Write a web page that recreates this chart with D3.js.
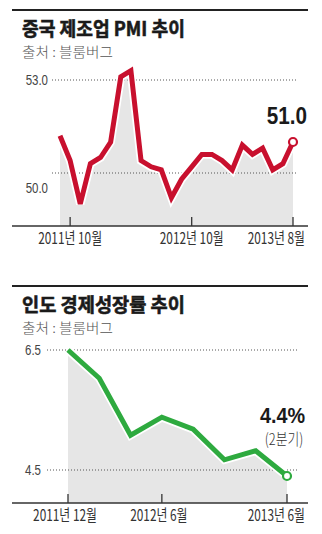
<!DOCTYPE html>
<html><head><meta charset="utf-8">
<script src="https://cdn.jsdelivr.net/npm/d3@7"></script>
<style>
html,body{margin:0;padding:0;background:#fff;}
svg{display:block;}
</style></head>
<body>
<script>
// ---- Data ----
const pmiMonths = ["2011-09","2011-10","2011-11","2011-12","2012-01","2012-02","2012-03","2012-04","2012-05","2012-06","2012-07","2012-08","2012-09","2012-10","2012-11","2012-12","2013-01","2013-02","2013-03","2013-04","2013-05","2013-06","2013-07","2013-08"];
const pmiValues = [51.2,50.4,49.0,50.3,50.5,51.0,53.1,53.3,50.4,50.2,50.1,49.2,49.8,50.2,50.6,50.6,50.4,50.1,50.9,50.6,50.8,50.1,50.3,51.0];
const pmiTicks = ["2011-10","2012-10","2013-08"];
const pmiTickLabels = ["2011년 10월","2012년 10월","2013년 8월"];
const pmiGrid = [53.0, 50.0];
const pmiGridLabels = ["53.0","50.0"];

const gdpPeriods = ["2011-12","2012-03a","2012-03b","2012-06","2012-09","2012-12","2013-03","2013-06"];
const gdpValues = [6.5,6.03,5.08,5.38,5.18,4.67,4.82,4.4];
const gdpTicks = ["2011-12","2012-06","2013-06"];
const gdpTickLabels = ["2011년 12월","2012년 6월","2013년 6월"];
const gdpGrid = [6.5, 4.5];
const gdpGridLabels = ["6.5","4.5"];

const W = 322, H = 534;
const KR = "'Noto Sans CJK KR', 'Noto Sans', sans-serif";
const NUM = "'Liberation Sans Narrow', 'Liberation Sans', Arial, sans-serif";

const svg = d3.select("body").append("svg").attr("width", W).attr("height", H);

function fitText(sel, w) {
  const bw = sel.node().getComputedTextLength();
  return bw > 0 ? w / bw : 1;
}

function panel(cfg) {
  const g = svg.append("g");
  g.append("line").attr("x1", 12).attr("x2", 308).attr("y1", cfg.top).attr("y2", cfg.top)
    .attr("stroke", "#222").attr("stroke-width", 2);
  const t = g.append("text")
    .attr("font-family", KR).attr("font-weight", 700).attr("font-size", 19.5).attr("fill", "#1a1a1a")
    .attr("stroke", "#1a1a1a").attr("stroke-width", 0.6)
    .text(cfg.title);
  t.attr("transform", `translate(22,${cfg.top + 26}) scale(${fitText(t, cfg.titleW)},1)`);
  const s = g.append("text")
    .attr("font-family", KR).attr("font-weight", 300).attr("font-size", 13.5).attr("fill", "#555")
    .text("출처 : 블룸버그");
  s.attr("transform", `translate(22,${cfg.top + 47}) scale(${fitText(s, 91)},1)`);

  const x = d3.scalePoint().domain(cfg.keys).range(cfg.xRange);
  const y = d3.scaleLinear().domain(cfg.yDomain).range(cfg.yRange);
  const pts = cfg.keys.map((k, i) => [x(k), y(cfg.values[i])]);

  g.append("path").datum(pts)
    .attr("d", d3.area().x(d => d[0]).y0(cfg.base).y1(d => d[1]))
    .attr("fill", "#e6e6e6");

  cfg.grid.forEach((v, i) => {
    g.append("line").attr("x1", cfg.gridX0).attr("x2", 297).attr("y1", y(v)).attr("y2", y(v))
      .attr("stroke", "#555").attr("stroke-width", 1).attr("stroke-dasharray", "1,2");
    g.append("text").attr("transform", `translate(${cfg.gridLabelX},${y(v) + cfg.gridLabelDy[i]}) scale(0.82,1)`)
      .attr("text-anchor", "end").attr("dominant-baseline", "central")
      .attr("font-family", NUM).attr("font-size", 14).attr("fill", "#444")
      .text(cfg.gridLabels[i]);
  });

  const line = d3.line().x(d => d[0]).y(d => d[1]);
  g.append("path").datum(pts).attr("d", line).attr("fill", "none")
    .attr("stroke", "#fff").attr("stroke-width", 8.5).attr("stroke-linejoin", "miter").attr("stroke-miterlimit", 3);
  g.append("path").datum(pts).attr("d", line).attr("fill", "none")
    .attr("stroke", cfg.color).attr("stroke-width", 5).attr("stroke-linejoin", "miter").attr("stroke-miterlimit", 3);

  const last = pts[pts.length - 1];
  g.append("circle").attr("cx", last[0]).attr("cy", last[1]).attr("r", 4)
    .attr("fill", "#fff").attr("stroke", cfg.color).attr("stroke-width", 2.2);

  g.append("line").attr("x1", 12).attr("x2", 308).attr("y1", cfg.base).attr("y2", cfg.base)
    .attr("stroke", "#333").attr("stroke-width", 1.5);
  cfg.ticks.forEach((tk, i) => {
    const tx = x(tk);
    g.append("line").attr("x1", tx).attr("x2", tx).attr("y1", cfg.base - 9).attr("y2", cfg.base)
      .attr("stroke", "#333").attr("stroke-width", 1.3);
    const lab = g.append("text")
      .attr("text-anchor", "middle")
      .attr("font-family", KR).attr("font-size", 16).attr("fill", "#333")
      .text(cfg.tickLabels[i]);
    const sc = 0.74;
    const half = lab.node().getComputedTextLength() * sc / 2;
    const cx = Math.min(tx - cfg.tickShift, 305 - half);
    lab.attr("transform", `translate(${cx},${cfg.base + 18}) scale(${sc},1)`);
  });
  return {g, x, y, last};
}

const p1 = panel({
  top: 10, title: "중국 제조업 PMI 추이", titleW: 163, keys: pmiMonths, values: pmiValues,
  xRange: [60, 293], yDomain: [50, 53], yRange: [173, 80], base: 226,
  grid: pmiGrid, gridLabels: pmiGridLabels, gridX0: 52, gridLabelX: 48, gridLabelDy: [0, 15],
  color: "#c8102e", ticks: pmiTicks, tickLabels: pmiTickLabels, tickShift: 0
});
p1.g.append("text").attr("transform", `translate(307,124) scale(0.9,1)`)
  .attr("text-anchor", "end").attr("font-family", NUM).attr("font-weight", 700)
  .attr("font-size", 23).attr("fill", "#1a1a1a").text(pmiValues[pmiValues.length - 1].toFixed(1));

const p2 = panel({
  top: 286, title: "인도 경제성장률 추이", titleW: 163, keys: gdpPeriods, values: gdpValues,
  xRange: [68, 287], yDomain: [4.5, 6.5], yRange: [470, 350], base: 503,
  grid: gdpGrid, gridLabels: gdpGridLabels, gridX0: 47, gridLabelX: 41, gridLabelDy: [0, 0],
  color: "#2eaa3f", ticks: gdpTicks, tickLabels: gdpTickLabels, tickShift: 3
});
p2.g.append("text").attr("transform", `translate(305,423) scale(0.9,1)`)
  .attr("text-anchor", "end").attr("font-family", NUM).attr("font-weight", 700)
  .attr("font-size", 22).attr("fill", "#1a1a1a").text(gdpValues[gdpValues.length - 1].toFixed(1) + "%");
p2.g.append("text").attr("transform", `translate(284,445) scale(0.8,1)`)
  .attr("text-anchor", "middle").attr("font-family", KR).attr("font-weight", 300)
  .attr("font-size", 16).attr("fill", "#333").text("(2분기)");
</script>
</body></html>
